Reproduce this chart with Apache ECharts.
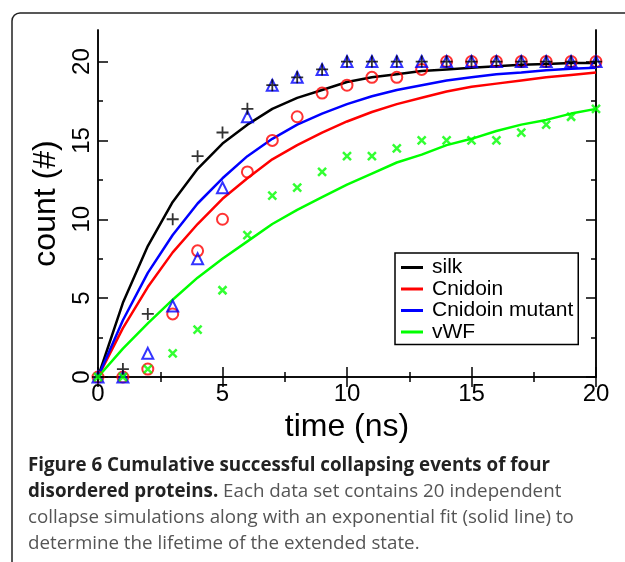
<!DOCTYPE html>
<html>
<head>
<meta charset="utf-8">
<script src="https://cdn.jsdelivr.net/npm/echarts@6/dist/echarts.min.js"></script>
<style>
  html, body { margin: 0; padding: 0; background: #fff; }
  #chart_collapse { width: 625px; height: 562px; }
</style>
</head>
<body>
<div id="chart_collapse"></div>
<script>
  // time points (ns)
  const timeNs = [0, 1, 2, 3, 4, 5, 6, 7, 8, 9, 10, 11, 12, 13, 14, 15, 16, 17, 18, 19, 20]

  // simulation counts (markers)
  const silkCount = [0, 0.5, 4, 10, 14, 15.5, 17, 18.5, 19, 19.5, 20, 20, 20, 20, 20, 20, 20, 20, 20, 20, 20]
  const cnidoinCount = [0, 0, 0.5, 4, 8, 10, 13, 15, 16.5, 18, 18.5, 19, 19, 19.5, 20, 20, 20, 20, 20, 20, 20]
  const mutantCount = [0, 0, 1.5, 4.5, 7.5, 12, 16.5, 18.5, 19, 19.5, 20, 20, 20, 20, 20, 20, 20, 20, 20, 20, 20]
  const vwfCount = [0, 0, 0.5, 1.5, 3, 5.5, 9, 11.5, 12, 13, 14, 14, 14.5, 15, 15, 15, 15, 15.5, 16, 16.5, 17]

  // exponential fits (solid lines)
  const silkFit = [0, 4.7, 8.3, 11.1, 13.2, 14.8, 16.0, 17.0, 17.7, 18.2, 18.7, 19.0, 19.2, 19.4, 19.5, 19.6, 19.7, 19.8, 19.85, 19.9, 19.9]
  const cnidoinFit = [0, 3.1, 5.7, 7.9, 9.7, 11.3, 12.6, 13.8, 14.7, 15.5, 16.2, 16.8, 17.3, 17.7, 18.1, 18.4, 18.6, 18.8, 19.0, 19.15, 19.3]
  const mutantFit = [0, 3.6, 6.6, 9.0, 11.0, 12.6, 14.0, 15.1, 16.0, 16.7, 17.3, 17.8, 18.2, 18.5, 18.8, 19.0, 19.2, 19.3, 19.45, 19.55, 19.6]
  const vwfFit = [0, 1.8, 3.4, 4.9, 6.3, 7.5, 8.6, 9.7, 10.6, 11.4, 12.2, 12.9, 13.6, 14.1, 14.7, 15.1, 15.6, 16.0, 16.3, 16.7, 17.0]

  const names = ['silk', 'Cnidoin', 'Cnidoin mutant', 'vWF']
  const colors = ['#000000', '#ff0000', '#0000ff', '#00ff00']
  const yMajor = [0, 5, 10, 15, 20]
  const yMinor = [2.5, 7.5, 12.5, 17.5]

  const captionLines = [
    ['Figure 6 Cumulative successful collapsing events of four', ''],
    ['disordered proteins.', ' Each data set contains 20 independent'],
    ['', 'collapse simulations along with an exponential fit (solid line) to'],
    ['', 'determine the lifetime of the extended state.']
  ]

  function pairs(vals) {
    return timeNs.map((t, i) => [t, vals[i]])
  }

  const fitLine = (name, vals, color) => ({
    name: name,
    type: 'line',
    data: pairs(vals),
    showSymbol: false,
    symbol: 'none',
    smooth: false,
    lineStyle: { width: 2.5, color: color },
    itemStyle: { color: color },
    z: 2
  })

  const dots = (vals, symbol, size, color, bw) => ({
    name: '_' + color,
    type: 'scatter',
    data: pairs(vals),
    symbol: symbol,
    symbolSize: size,
    itemStyle: { color: 'transparent', borderColor: color, borderWidth: bw },
    z: 3
  })

  // caption font is narrow, squeeze Open Sans to fit
  const ctx = document.createElement('canvas').getContext('2d')
  ctx.font = 'bold 19px "Open Sans"'
  const capScale = 522 / ctx.measureText(captionLines[0][0]).width

  const captionGraphic = captionLines.map((ln, i) => {
    let txt = ''
    if (ln[0]) txt += '{b|' + ln[0] + '}'
    if (ln[1]) txt += '{n|' + ln[1] + '}'
    return {
      type: 'text',
      x: 28,
      y: 465.5 + i * 26,
      scaleX: capScale,
      style: {
        text: txt,
        verticalAlign: 'middle',
        rich: {
          b: { fontFamily: 'Open Sans', fontSize: 19, fontWeight: 'bold', fill: '#222' },
          n: { fontFamily: 'Open Sans', fontSize: 19, fill: '#555' }
        }
      }
    }
  })

  const baseX = {
    type: 'value', min: 0, max: 20, interval: 5,
    axisLine: { lineStyle: { color: '#000', width: 1.5 } },
    axisTick: { inside: true, length: 10, lineStyle: { color: '#000', width: 1.5 } },
    minorTick: { show: true, splitNumber: 2, length: 5, lineStyle: { color: '#000', width: 1.5 } },
    splitLine: { show: false }
  }

  const yAxisOf = (pos, ticks, len, labels) => ({
    type: 'value', min: 0, max: 22, position: pos,
    axisLine: { show: true, onZero: false, lineStyle: { color: '#000', width: 1.5 } },
    axisTick: { show: true, inside: true, length: len, customValues: ticks, lineStyle: { color: '#000', width: 1.5 } },
    axisLabel: labels ? {
      customValues: yMajor, rotate: 90, margin: 4,
      fontFamily: 'Liberation Sans', fontSize: 24, color: '#000'
    } : { show: false },
    splitLine: { show: false }
  })

  const chart = echarts.init(document.getElementById('chart_collapse'))

  const option = {
    backgroundColor: '#fff',
    animation: false,
    grid: { left: 98, right: 29, top: 30, bottom: 185 },
    xAxis: [
      Object.assign({}, baseX, {
        position: 'bottom',
        name: 'time (ns)', nameLocation: 'middle', nameGap: 28,
        nameTextStyle: { fontFamily: 'Liberation Sans', fontSize: 32, color: '#000' },
        axisLabel: { margin: 5, fontFamily: 'Liberation Sans', fontSize: 24, color: '#000' }
      }),
      Object.assign({}, baseX, { position: 'top', axisLabel: { show: false } })
    ],
    yAxis: [
      Object.assign(yAxisOf('left', yMajor, 10, true), {
        name: 'count (#)', nameLocation: 'middle', nameGap: 35,
        nameTextStyle: { fontFamily: 'Liberation Sans', fontSize: 32, color: '#000' }
      }),
      yAxisOf('left', yMinor, 5, false),
      yAxisOf('right', yMajor, 10, false),
      yAxisOf('right', yMinor, 5, false)
    ],
    legend: {
      orient: 'vertical',
      left: 395, top: 253,
      data: names.map(n => ({ name: n, icon: 'rect' })),
      itemWidth: 22, itemHeight: 3, itemGap: 0.5,
      padding: [4, 5, 2, 6],
      borderColor: '#000', borderWidth: 1.5,
      textStyle: { fontFamily: 'Liberation Sans', fontSize: 21, lineHeight: 19.5, color: '#000', padding: [0, 0, 0, 4] }
    },
    graphic: [
      {
        type: 'rect',
        shape: { x: 12, y: 13, width: 660, height: 560, r: 8 },
        style: { fill: 'none', stroke: '#222', lineWidth: 1.5 },
        silent: true
      }
    ].concat(captionGraphic),
    series: [
      fitLine(names[0], silkFit, colors[0]),
      fitLine(names[1], cnidoinFit, colors[1]),
      fitLine(names[2], mutantFit, colors[2]),
      fitLine(names[3], vwfFit, colors[3]),
      dots(cnidoinCount, 'circle', 11, colors[1], 2),
      dots(mutantCount, 'triangle', 11, colors[2], 2),
      dots(silkCount, 'path://M5,0L5,10M0,5L10,5', 12, colors[0], 1.8),
      dots(vwfCount, 'path://M0,0L10,10M10,0L0,10', 8, colors[3], 2.5)
    ]
  }

  chart.setOption(option, true)
</script>
</body>
</html>
